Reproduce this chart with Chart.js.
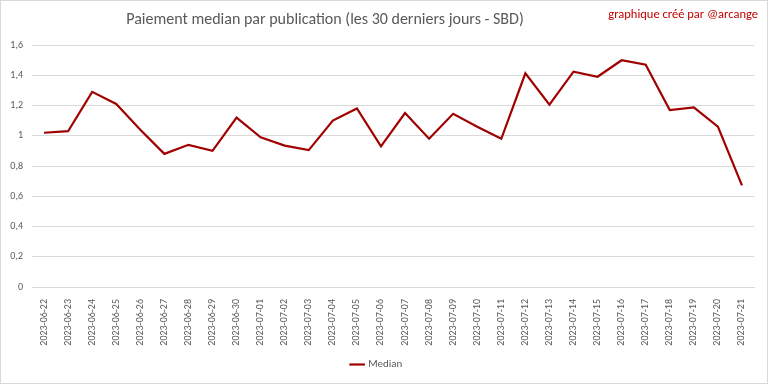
<!DOCTYPE html>
<html>
<head>
<meta charset="utf-8">
<script src="https://cdn.jsdelivr.net/npm/chart.js@4/dist/chart.umd.min.js"></script>
<style>
  html, body { margin: 0; padding: 0; background: #fff; }
  #wrap { width: 768px; height: 384px; }
</style>
</head>
<body>
<div id="wrap"><canvas id="medianChart" width="768" height="384"></canvas></div>
<script>
const dates = [
  '2023-06-22', '2023-06-23', '2023-06-24', '2023-06-25', '2023-06-26', '2023-06-27',
  '2023-06-28', '2023-06-29', '2023-06-30', '2023-07-01', '2023-07-02', '2023-07-03',
  '2023-07-04', '2023-07-05', '2023-07-06', '2023-07-07', '2023-07-08', '2023-07-09',
  '2023-07-10', '2023-07-11', '2023-07-12', '2023-07-13', '2023-07-14', '2023-07-15',
  '2023-07-16', '2023-07-17', '2023-07-18', '2023-07-19', '2023-07-20', '2023-07-21'
];
const medianValues = [
  1.02, 1.03, 1.29, 1.21, 1.04, 0.88,
  0.94, 0.90, 1.12, 0.99, 0.935, 0.905,
  1.10, 1.18, 0.93, 1.15, 0.98, 1.145,
  1.06, 0.98, 1.413, 1.205, 1.424, 1.39,
  1.499, 1.47, 1.17, 1.188, 1.06, 0.672
];
const chartTitle = 'Paiement median par publication (les 30 derniers jours - SBD)';
const creditText = 'graphique créé par @arcange';

const fontFamily = "Calibri, Carlito, 'Open Sans', 'Liberation Sans', sans-serif";

const decorations = {
    id: 'decorations',
    afterDraw(chart) {
        const ctx = chart.ctx;
        ctx.save();
        ctx.fillStyle = '#595959';
        ctx.font = '16px ' + fontFamily;
        ctx.textAlign = 'center';
        ctx.textBaseline = 'middle';
        ctx.fillText(chartTitle, 325, 20);
        ctx.fillStyle = '#c00000';
        ctx.font = '12.5px ' + fontFamily;
        ctx.textAlign = 'right';
        ctx.fillText(creditText, 758, 15);
        ctx.strokeStyle = '#d9d9d9';
        ctx.lineWidth = 1;
        ctx.strokeRect(0.5, 0.5, chart.width - 1, chart.height - 1);
        ctx.restore();
    }
};

document.addEventListener('DOMContentLoaded', () => {
    new Chart(document.getElementById('medianChart').getContext('2d'), {
        type: 'line',
        data: {
            labels: dates,
            datasets: [{
                label: 'Median',
                data: medianValues,
                borderColor: '#a00000',
                backgroundColor: '#a00000',
                borderWidth: 2.2,
                pointRadius: 0,
                tension: 0
            }]
        },
        options: {
            responsive: false,
            animation: false,
            layout: { padding: { top: 45, right: 14, left: 0, bottom: 4 } },
            plugins: {
                title: { display: false },
                tooltip: { enabled: false },
                legend: {
                    position: 'bottom',
                    labels: {
                        usePointStyle: true,
                        pointStyle: 'line',
                        boxWidth: 24,
                        color: '#595959',
                        font: { family: fontFamily, size: 11 },
                        padding: 8
                    }
                }
            },
            scales: {
                x: {
                    offset: true,
                    grid: { display: false },
                    border: { color: '#d9d9d9' },
                    ticks: {
                        color: '#595959',
                        font: { family: fontFamily, size: 10 },
                        maxRotation: 90,
                        minRotation: 90,
                        autoSkip: false,
                        padding: 4
                    },
                    afterFit: scale => { scale.height = 64; }
                },
                y: {
                    min: 0,
                    max: 1.6,
                    grid: { color: '#d9d9d9', drawTicks: false },
                    border: { display: false },
                    ticks: {
                        stepSize: 0.2,
                        color: '#595959',
                        font: { family: fontFamily, size: 10 },
                        padding: 9,
                        callback: v => String(Math.round(v * 10) / 10).replace('.', ',')
                    },
                    afterFit: scale => { scale.width = 32; }
                }
            }
        },
        plugins: [decorations]
    });
});
</script>
</body>
</html>
